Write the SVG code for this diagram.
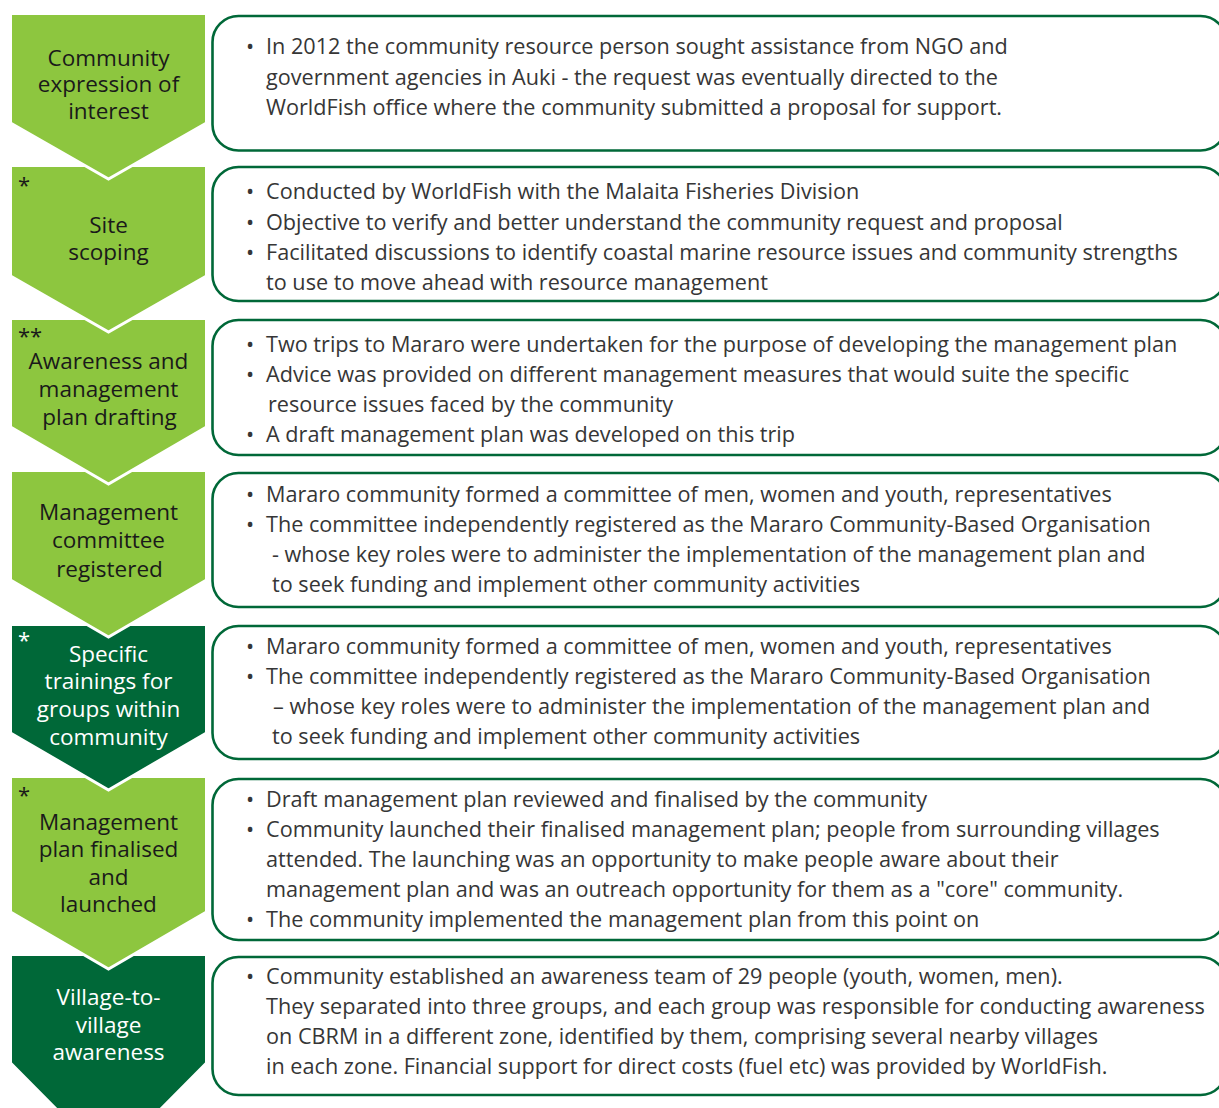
<svg xmlns="http://www.w3.org/2000/svg" width="1219" height="1108" viewBox="0 0 1219 1108">
<style>
.lg{fill:#8DC63F;stroke:#FFFFFF;stroke-width:3;stroke-linejoin:miter}
.dg{fill:#006838;stroke:#FFFFFF;stroke-width:3;stroke-linejoin:miter}
.box{fill:#FFFFFF;stroke:#006838;stroke-width:2.6}
.lab{font-family:"Open Sans","Noto Sans",sans-serif;font-size:22.5px;text-anchor:middle;fill:#1A1A1A}
.labw{fill:#FFFFFF}
.ast{font-family:"Open Sans","Noto Sans",sans-serif;font-size:22px;fill:#1A1A1A}
.astw{fill:#FFFFFF}
.body{font-family:"Open Sans","Noto Sans",sans-serif;font-size:21.65px;fill:#363636}
</style>
<rect width="1219" height="1108" fill="#FFFFFF"/>
<g id="connectors"/>

<g id="box1"><rect class="box" x="212.5" y="16" width="1014" height="134.5" rx="26"/>
<text class="body"><tspan x="246" y="54">•</tspan><tspan x="266" y="54">In 2012 the community resource person sought assistance from NGO and</tspan><tspan x="266" y="84.5">government agencies in Auki - the request was eventually directed to the</tspan><tspan x="266" y="115">WorldFish office where the community submitted a proposal for support.</tspan></text></g>

<g id="box2"><rect class="box" x="212.5" y="167" width="1014" height="134" rx="26"/>
<text class="body"><tspan x="246" y="199">•</tspan><tspan x="266" y="199">Conducted by WorldFish with the Malaita Fisheries Division</tspan><tspan x="246" y="229.5">•</tspan><tspan x="266" y="229.5">Objective to verify and better understand the community request and proposal</tspan><tspan x="246" y="260">•</tspan><tspan x="266" y="260">Facilitated discussions to identify coastal marine resource issues and community strengths</tspan><tspan x="266" y="290">to use to move ahead with resource management</tspan></text></g>

<g id="box3"><rect class="box" x="212.5" y="320" width="1014" height="135" rx="26"/>
<text class="body"><tspan x="246" y="351.5">•</tspan><tspan x="266" y="351.5">Two trips to Mararo were undertaken for the purpose of developing the management plan</tspan><tspan x="246" y="381.5">•</tspan><tspan x="266" y="381.5">Advice was provided on different management measures that would suite the specific</tspan><tspan x="268" y="411.5">resource issues faced by the community</tspan><tspan x="246" y="441.5">•</tspan><tspan x="266" y="441.5">A draft management plan was developed on this trip</tspan></text></g>

<g id="box4"><rect class="box" x="212.5" y="473" width="1014" height="134" rx="26"/>
<text class="body"><tspan x="246" y="501.5">•</tspan><tspan x="266" y="501.5">Mararo community formed a committee of men, women and youth, representatives</tspan><tspan x="246" y="531.5">•</tspan><tspan x="266" y="531.5">The committee independently registered as the Mararo Community-Based Organisation</tspan><tspan x="272" y="561.5">- whose key roles were to administer the implementation of the management plan and</tspan><tspan x="272" y="591.5">to seek funding and implement other community activities</tspan></text></g>

<g id="box5"><rect class="box" x="212.5" y="626" width="1014" height="133" rx="26"/>
<text class="body"><tspan x="246" y="653.5">•</tspan><tspan x="266" y="653.5">Mararo community formed a committee of men, women and youth, representatives</tspan><tspan x="246" y="683.5">•</tspan><tspan x="266" y="683.5">The committee independently registered as the Mararo Community-Based Organisation</tspan><tspan x="273" y="713.5">– whose key roles were to administer the implementation of the management plan and</tspan><tspan x="272" y="743.5">to seek funding and implement other community activities</tspan></text></g>

<g id="box6"><rect class="box" x="212.5" y="779" width="1014" height="161" rx="26"/>
<text class="body"><tspan x="246" y="806.5">•</tspan><tspan x="266" y="806.5">Draft management plan reviewed and finalised by the community</tspan><tspan x="246" y="836.5">•</tspan><tspan x="266" y="836.5">Community launched their finalised management plan; people from surrounding villages</tspan><tspan x="266" y="867">attended. The launching was an opportunity to make people aware about their</tspan><tspan x="266" y="897">management plan and was an outreach opportunity for them as a "core" community.</tspan><tspan x="246" y="927">•</tspan><tspan x="266" y="927">The community implemented the management plan from this point on</tspan></text></g>

<g id="box7"><rect class="box" x="212.5" y="957" width="1014" height="138" rx="26"/>
<text class="body"><tspan x="246" y="983.5">•</tspan><tspan x="266" y="983.5">Community established an awareness team of 29 people (youth, women, men).</tspan><tspan x="266" y="1013.5">They separated into three groups, and each group was responsible for conducting awareness</tspan><tspan x="266" y="1043.5">on CBRM in a different zone, identified by them, comprising several nearby villages</tspan><tspan x="266" y="1073.5">in each zone. Financial support for direct costs (fuel etc) was provided by WorldFish.</tspan></text></g>

<g id="step7"><path class="dg" d="M10.5,954.5 H206.5 V1063 L108.5,1162 L10.5,1063 Z"/>
<text class="lab labw"><tspan x="108.5" y="1005">Village-to-</tspan><tspan x="108.5" y="1032.5">village</tspan><tspan x="108.5" y="1060">awareness</tspan></text></g>

<g id="step6"><path class="lg" d="M10.5,776.5 H206.5 V912 L108.5,969 L10.5,912 Z"/>
<text class="ast" x="18" y="803">*</text>
<text class="lab"><tspan x="108.5" y="830">Management</tspan><tspan x="108.5" y="857">plan finalised</tspan><tspan x="108.5" y="884.5">and</tspan><tspan x="108.5" y="911.5">launched</tspan></text></g>

<g id="step5"><path class="dg" d="M10.5,624.5 H206.5 V733 L108.5,790 L10.5,733 Z"/>
<text class="ast astw" x="18" y="648">*</text>
<text class="lab labw"><tspan x="108.5" y="661.5">Specific</tspan><tspan x="108.5" y="689.3">trainings for</tspan><tspan x="108.5" y="717">groups within</tspan><tspan x="108.5" y="745">community</tspan></text></g>

<g id="step4"><path class="lg" d="M10.5,470.5 H206.5 V580 L108.5,637 L10.5,580 Z"/>
<text class="lab"><tspan x="108.5" y="520">Management</tspan><tspan x="108.5" y="548">committee</tspan><tspan x="109.5" y="576.5">registered</tspan></text></g>

<g id="step3"><path class="lg" d="M10.5,318.5 H206.5 V427 L108.5,484 L10.5,427 Z"/>
<text class="ast" x="18" y="344">**</text>
<text class="lab"><tspan x="108.5" y="369">Awareness and</tspan><tspan x="108.5" y="397">management</tspan><tspan x="109.5" y="425">plan drafting</tspan></text></g>

<g id="step2"><path class="lg" d="M10.5,165.5 H206.5 V276 L108.5,332 L10.5,276 Z"/>
<text class="ast" x="18" y="193">*</text>
<text class="lab"><tspan x="108.5" y="233">Site</tspan><tspan x="108.5" y="259.5">scoping</tspan></text></g>

<g id="step1"><path class="lg" d="M10.5,13.5 H206.5 V123 L108.5,179 L10.5,123 Z"/>
<text class="lab"><tspan x="108.5" y="65.5">Community</tspan><tspan x="108.5" y="92">expression of</tspan><tspan x="108.5" y="118.5">interest</tspan></text></g>
</svg>
